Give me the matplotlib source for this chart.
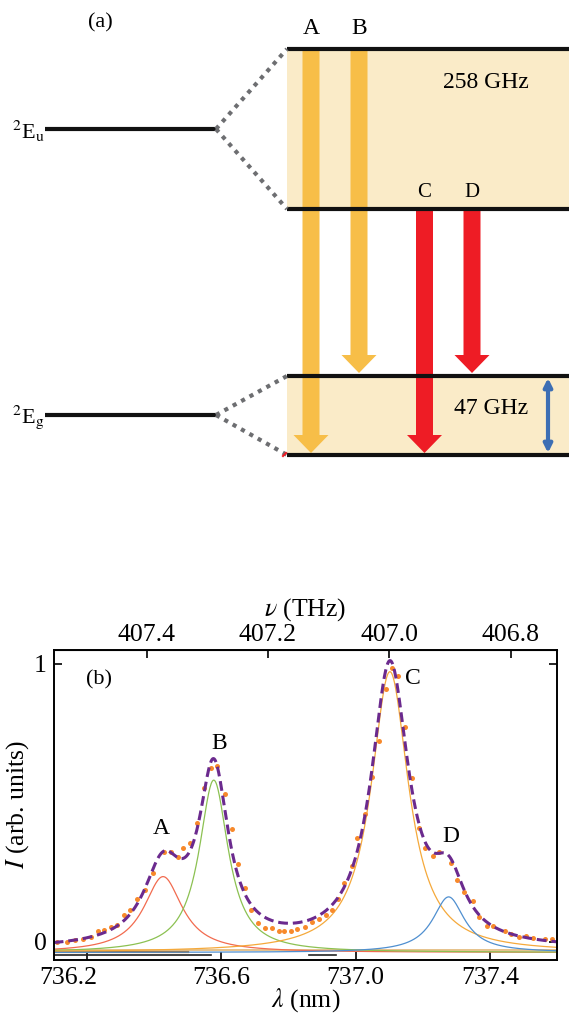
import numpy as np
import matplotlib
matplotlib.use('Agg')
import matplotlib.pyplot as plt
import matplotlib.transforms as mtransforms

plt.rcParams['font.family'] = ['Liberation Serif', 'DejaVu Serif']
plt.rcParams['mathtext.fontset'] = 'stix'

# (a) level scheme
transitions = ['A', 'B', 'C', 'D']
transition_colors = ['#F7BE48', '#F7BE48', '#EE1C25', '#EE1C25']
splitting_labels = ['258 GHz', '47 GHz']
state_labels = [r'$^{2}$E$_{\mathrm{u}}$', r'$^{2}$E$_{\mathrm{g}}$']

# (b) measured spectrum (orange dots)
wl_data = [736.111, 736.139, 736.163, 736.188, 736.210, 736.231, 736.251, 736.271,
           736.288, 736.309, 736.327, 736.349, 736.372, 736.396, 736.429, 736.451,
           736.469, 736.486, 736.506, 736.526, 736.548, 736.568, 736.588, 736.610,
           736.630, 736.650, 736.669, 736.688, 736.709, 736.729, 736.752, 736.772,
           736.787, 736.806, 736.825, 736.848, 736.871, 736.891, 736.913, 736.928,
           736.948, 736.965, 736.988, 737.005, 737.027, 737.048, 737.070, 737.090,
           737.108, 737.126, 737.146, 737.167, 737.189, 737.208, 737.229, 737.248,
           737.285, 737.302, 737.323, 737.350, 737.368, 737.390, 737.409, 737.444,
           737.464, 737.487, 737.509, 737.527, 737.563, 737.586]
int_data = [0.000, 0.001, 0.007, 0.011, 0.017, 0.040, 0.042, 0.055,
            0.061, 0.097, 0.115, 0.154, 0.187, 0.248, 0.325, 0.324,
            0.307, 0.337, 0.355, 0.429, 0.555, 0.625, 0.631, 0.532,
            0.405, 0.281, 0.194, 0.114, 0.069, 0.051, 0.050, 0.040,
            0.040, 0.040, 0.047, 0.055, 0.072, 0.082, 0.097, 0.115,
            0.154, 0.213, 0.274, 0.375, 0.460, 0.594, 0.723, 0.909,
            0.986, 0.958, 0.774, 0.590, 0.409, 0.337, 0.309, 0.325,
            0.283, 0.223, 0.181, 0.147, 0.091, 0.058, 0.058, 0.040,
            0.029, 0.019, 0.022, 0.015, 0.010, 0.010]

# Lorentzian fit components A-D
peak_centers = [736.426, 736.577, 737.102, 737.277]
peak_heights = [0.273, 0.62, 1.01, 0.20]
peak_hwhm = [0.070, 0.053, 0.068, 0.058]
peak_colors = ['#F26B4F', '#8CC152', '#F5A93B', '#4F8FD0']
component_offset = -0.038
fit_offset = -0.027

wl_ticks = [736.2, 736.6, 737.0, 737.4]
nu_ticks = [407.4, 407.2, 407.0, 406.8]

C_LIGHT = 299792.458  # nm*THz
WL_SHIFT = 737.1 - C_LIGHT / 407.0


def wl_to_nu(wl):
    return C_LIGHT / (np.asarray(wl, dtype=float) - WL_SHIFT)


def nu_to_wl(nu):
    return C_LIGHT / np.asarray(nu, dtype=float) + WL_SHIFT


def lorentz(x, x0, h, g):
    return h / (1 + ((x - x0) / g) ** 2)


fig = plt.figure(figsize=(5.69, 10.18), dpi=100)

# ---------------- panel (a): drawn in pixel units ----------------
axd = fig.add_axes([0, 0, 1, 1])
axd.set_xlim(0, 569)
axd.set_ylim(1018, 0)
axd.axis('off')

lev_x0, lev_x1 = 287, 569
upper = [49, 209]
lower = [376, 455]
parent_x0, parent_x1 = 45, 216
parent_y = [129, 415]

beige = '#FAEBC8'
axd.fill_between([lev_x0, lev_x1], upper[0], upper[1], color=beige, lw=0)
axd.fill_between([lev_x0, lev_x1], lower[0], lower[1], color=beige, lw=0)

arrow_x = [311, 359, 424.5, 472]
arrow_start = [upper[0], upper[0], upper[1], upper[1]]
arrow_end = [lower[1] - 2, lower[0] - 3, lower[1] - 2, lower[0] - 3]
label_y = [28, 28, 192, 192]
for name, col, x, y0, y1, ly in zip(transitions, transition_colors, arrow_x,
                                    arrow_start, arrow_end, label_y):
    axd.arrow(x, y0, 0, y1 - y0, width=17, head_width=35, head_length=18,
              length_includes_head=True, color=col, lw=0)
    axd.text(x, ly, name, ha='center', va='center', fontsize=17 if ly < 100 else 15)

for y in upper + lower:
    axd.plot([lev_x0, lev_x1], [y, y], color='#111111', lw=3, solid_capstyle='butt')

for py, lvls, lab in zip(parent_y, [upper, lower], state_labels):
    axd.plot([parent_x0, parent_x1], [py, py], color='#111111', lw=3, solid_capstyle='butt')
    for ly in lvls:
        axd.plot([parent_x1, lev_x0], [py, ly], color='#6D6E71', lw=3,
                 linestyle=(0, (1, 1.3)), dash_capstyle='butt')
    axd.text(28, py + 2, lab, ha='center', va='center', fontsize=16)

axd.plot([283, 286], [456, 453], color='#EE1C25', lw=1.5)

axd.text(486, 82, splitting_labels[0], ha='center', va='center', fontsize=17)
axd.text(491, 408, splitting_labels[1], ha='center', va='center', fontsize=17)
axd.annotate('', xy=(548, 378), xytext=(548, 453),
             arrowprops=dict(arrowstyle='<|-|>', color='#3C6EB4', lw=3,
                             mutation_scale=12, shrinkA=0, shrinkB=0))
axd.text(100, 23, '(a)', ha='center', va='center', fontsize=16)

# ---------------- panel (b): spectrum ----------------
ax = fig.add_axes([53.7 / 569, 1 - 960 / 1018, (557 - 53.7) / 569, 310 / 1018])
wl = np.linspace(736.1, 737.6, 800)

ax.plot([736.1, 736.57], [-0.047, -0.047], color='#222222', lw=1.2)
ax.plot([736.86, 736.94], [-0.047, -0.047], color='#222222', lw=1.2)
ax.plot([736.1, 737.6], [-0.030, -0.030], color='#E2B877', lw=1.2)
ax.plot([736.1, 736.5], [-0.036, -0.036], color='#B8701E', lw=1.6)

total = np.zeros_like(wl)
for x0, h, g, col in zip(peak_centers, peak_heights, peak_hwhm, peak_colors):
    comp = lorentz(wl, x0, h, g)
    total += comp
    ax.plot(wl, comp + component_offset, color=col, lw=0.9)

ax.plot(wl_data, int_data, 'o', color='#F7892B', ms=3.6, mec='none')
ax.plot(wl, total + fit_offset, color='#6B2A8E', lw=2.2, linestyle=(0, (3.2, 1.6)))

ax.set_xlim(736.1, 737.6)
ax.set_ylim(-0.065, 1.05)
ax.tick_params(direction='in', length=6, width=1.2, labelsize=18.5, pad=5,
               right=True, top=False)
ax.set_xticks(wl_ticks)
ax.set_xticklabels(['%.1f' % t for t in wl_ticks])
ax.set_yticks([0, 1])
ax.set_yticklabels(['0', '1'])
lab0 = ax.get_xticklabels()[0]
lab0.set_transform(lab0.get_transform() +
                   mtransforms.ScaledTranslation(-0.19, 0, fig.dpi_scale_trans))
for sp in ax.spines.values():
    sp.set_linewidth(1.4)

ax.set_xlabel(r'$\lambda$ (nm)', fontsize=18.5, labelpad=-2)
ax.set_ylabel(r'$I$ (arb. units)', fontsize=18.5, labelpad=2)

sec = ax.secondary_xaxis('top', functions=(wl_to_nu, nu_to_wl))
sec.set_xticks(nu_ticks)
sec.set_xticklabels(['%.1f' % t for t in nu_ticks])
sec.tick_params(direction='in', length=6, width=1.2, labelsize=18.5, pad=3)
sec.set_xlabel(r'$\nu$ (THz)', fontsize=18.5, labelpad=6)

ax.text(736.235, 0.942, '(b)', ha='center', va='center', fontsize=16)
peak_label_pos = [(736.421, 0.409), (736.592, 0.715), (737.169, 0.949), (737.283, 0.379)]
for name, (lx, ly) in zip(transitions, peak_label_pos):
    ax.text(lx, ly, name, ha='center', va='center', fontsize=17)

fig.savefig('out.png', dpi=100)
